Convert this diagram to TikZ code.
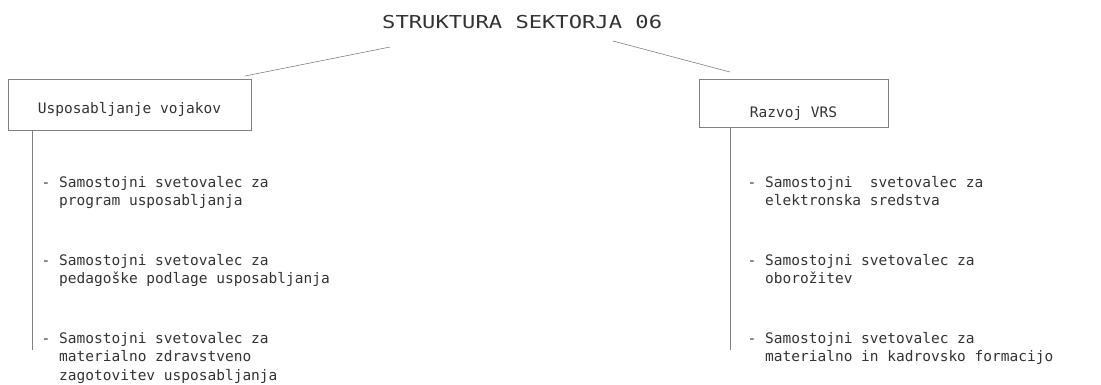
\documentclass[tikz,border=0pt]{standalone}
\usepackage{fontspec}
\setmonofont{DejaVu Sans Mono}
\begin{document}
\begin{tikzpicture}[x=1pt,y=-1pt,
  txt/.style={font=\ttfamily\fontsize{14.5}{18.5}\selectfont, text=black!80, inner sep=0pt},
  unitbox/.style={draw=black!50, line width=0.6pt, inner sep=0pt, text depth=3pt,
    font=\ttfamily\fontsize{14.5}{18.5}\selectfont, text=black!80},
  conn/.style={draw=black!50, line width=0.6pt}]
\useasboundingbox (0,0) rectangle (1101,384);

% title
\node[txt, anchor=base west] (title) at (382,28)
  {\scalebox{1.244}[1]{\fontsize{17.8}{20}\selectfont STRUKTURA SEKTORJA 06}};

% boxes
\node[unitbox, text height=20pt, minimum width=243pt, minimum height=51pt] (lbox) at (129.5,104.5) {Usposabljanje vojakov};
\node[unitbox, text height=31pt, minimum width=189pt, minimum height=48pt] (rbox) at (793.5,103) {Razvoj\ VRS};

% connector ends
\coordinate (tl) at (390,47);
\coordinate (tr) at (613,41);
\coordinate (lbt) at (245,76);
\coordinate (rbt) at (730,72);
\coordinate (lend) at (32,350);
\coordinate (rend) at (730,350);

\draw[conn] (tl) -- (lbt);
\draw[conn] (tr) -- (rbt);
\draw[conn] (lbox.south -| lend) -- (lend);
\draw[conn] (rbox.south -| rend) -- (rend);

% left items
\node[txt, anchor=base west] (l1) at (59,187)
  {\begin{tabular}[t]{@{}l@{}}\llap{-\ }Samostojni svetovalec za\\program usposabljanja\end{tabular}};
\node[txt, anchor=base west] (l2) at (59,265)
  {\begin{tabular}[t]{@{}l@{}}\llap{-\ }Samostojni svetovalec za\\pedagoške podlage usposabljanja\end{tabular}};
\node[txt, anchor=base west] (l3) at (59,343)
  {\begin{tabular}[t]{@{}l@{}}\llap{-\ }Samostojni svetovalec za\\materialno zdravstveno\\zagotovitev usposabljanja\end{tabular}};

% right items
\node[txt, anchor=base west] (r1) at (765,187)
  {\begin{tabular}[t]{@{}l@{}}\llap{-\ }Samostojni\ \ svetovalec za\\elektronska sredstva\end{tabular}};
\node[txt, anchor=base west] (r2) at (765,265)
  {\begin{tabular}[t]{@{}l@{}}\llap{-\ }Samostojni svetovalec za\\oborožitev\end{tabular}};
\node[txt, anchor=base west] (r3) at (765,343)
  {\begin{tabular}[t]{@{}l@{}}\llap{-\ }Samostojni svetovalec za\\materialno in kadrovsko formacijo\end{tabular}};
\end{tikzpicture}
\end{document}
